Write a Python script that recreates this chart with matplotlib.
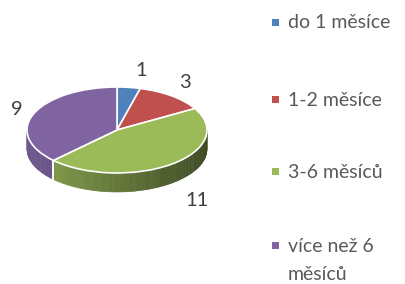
import numpy as np
import matplotlib.pyplot as plt
from matplotlib.patches import Polygon, Rectangle
from matplotlib.colors import to_rgb

# data
categories = ["do 1 měsíce", "1-2 měsíce", "3-6 měsíců", "více než 6\nměsíců"]
values = [1, 3, 11, 9]
colors = ["#4f81bd", "#c0504d", "#9bbb59", "#8064a2"]

plt.rcParams['font.family'] = ['Lato', 'DejaVu Sans']

W, H = 406, 284
fig = plt.figure(figsize=(W / 100, H / 100), dpi=100)
ax = fig.add_axes([0, 0, 1, 1])

# pie geometry in pixels
cx, cy, rx, ry, depth = 117, 130, 90, 43, 19
d = depth / ry

wedges, _ = ax.pie(values, colors=colors, startangle=90, counterclock=False,
                   wedgeprops=dict(edgecolor="white", linewidth=1.2))
for w in wedges:
    w.set_zorder(3)

ax.set_aspect("auto")
ax.set_xlim(-cx / rx, (W - cx) / rx)
ax.set_ylim((cy - H) / ry, cy / ry)
ax.axis("off")


def shade(c, x):
    f = 0.64 - 0.24 * x
    return tuple(min(1, v * f) for v in to_rgb(c))


# side walls of the visible front half
for w, c in zip(wedges, colors):
    t1, t2 = w.theta1, w.theta2
    for k in (-1, 0, 1):
        lo = max(t1, -180 + 360 * k)
        hi = min(t2, 360 * k)
        if hi <= lo:
            continue
        edges = np.linspace(lo, hi, max(2, int((hi - lo) / 1.5) + 1))
        for a0, a1 in zip(edges[:-1], edges[1:]):
            a = np.radians(np.linspace(a0, a1, 4))
            xs, ys = np.cos(a), np.sin(a)
            pts = np.column_stack([np.r_[xs, xs[::-1]], np.r_[ys, ys[::-1] - d]])
            col = shade(c, xs.mean())
            ax.add_patch(Polygon(pts, closed=True, facecolor=col, edgecolor=col,
                                 linewidth=0.4, zorder=1))
        for b in (lo, hi):
            if -180 + 360 * k < b < 360 * k:
                bx, by = np.cos(np.radians(b)), np.sin(np.radians(b))
                ax.plot([bx, bx], [by, by - d], color="white", lw=1.2, zorder=2)

# value labels
label_pos = [(141, 70), (185, 83), (197, 200), (17, 110)]
for v, (px, py) in zip(values, label_pos):
    fig.text(px / W, 1 - py / H, str(v), ha="center", va="center",
             fontsize=14.5, color="#404040")

# legend
row_y = [22, 99, 171, 245]
for name, c, py in zip(categories, colors, row_y):
    fig.add_artist(Rectangle((272 / W, 1 - (py + 3.5) / H), 7 / W, 7 / H,
                             transform=fig.transFigure, facecolor=c, edgecolor="none"))
    for i, line in enumerate(name.split("\n")):
        fig.text(288 / W, 1 - (py + 28 * i + 1) / H, line, ha="left", va="center",
                 fontsize=14, color="#595959")

fig.savefig("out.png", dpi=100)
